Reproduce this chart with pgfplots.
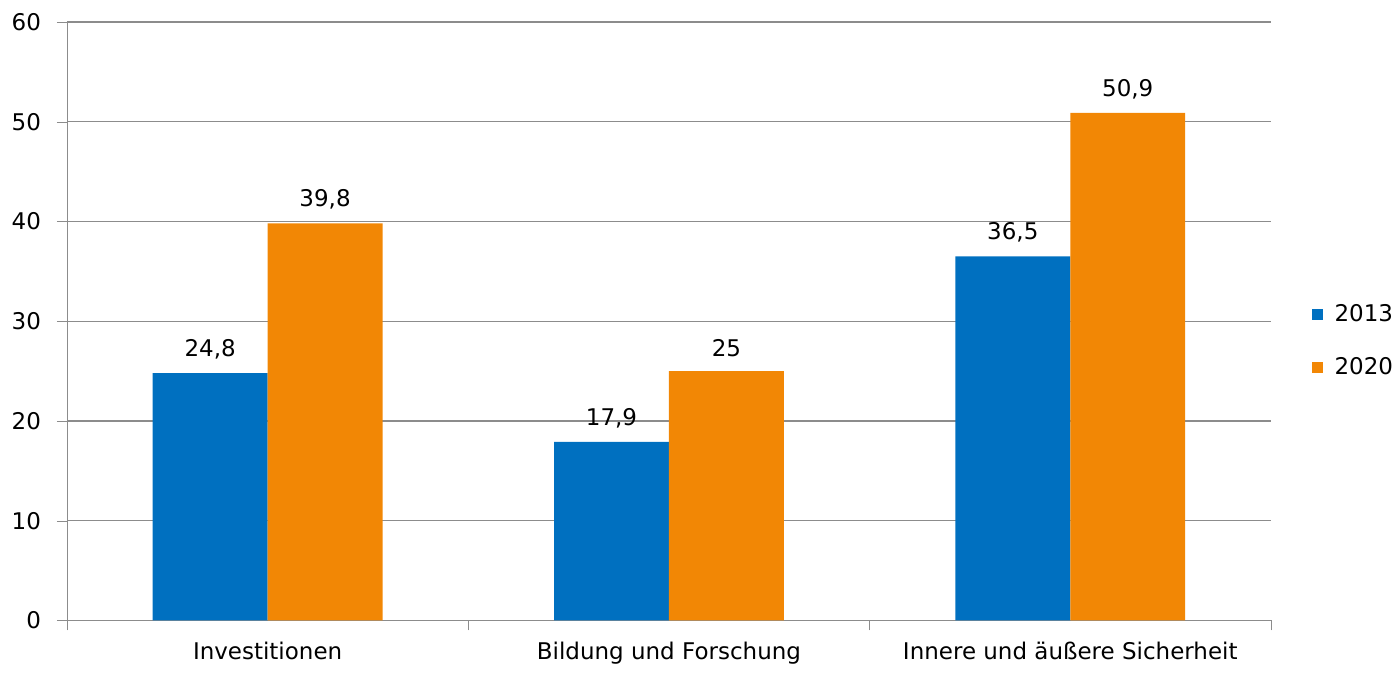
\documentclass[border=0pt]{standalone}
\usepackage{pgfplots}
\pgfplotsset{compat=1.18}
\usepackage{fontspec}
\setmainfont{DejaVu Sans}
\definecolor{cblue}{HTML}{0070C0}
\definecolor{corange}{HTML}{F28705}
\definecolor{gridc}{HTML}{8C8C8C}
\begin{document}
\fontsize{11.5}{13}\selectfont
\begin{tikzpicture}
\begin{axis}[
  scale only axis,
  width=602.5pt, height=299.5pt,
  ybar=0pt, bar width=57.5pt,
  xmin=-0.5, xmax=2.5,
  ymin=0, ymax=60,
  ytick={0,10,...,60},
  xtick={0,1,2},
  xticklabels={Investitionen, Bildung und Forschung, Innere und äußere Sicherheit},
  minor xtick={-0.5,0.5,1.5,2.5},
  major x tick style={draw=none},
  minor x tick style={draw=gridc},
  minor tick length=5pt,
  major tick length=5pt,
  tick align=outside,
  xtick pos=bottom, ytick pos=left,
  axis x line*=bottom, axis y line*=left,
  axis line style={draw=gridc, -},
  ytick style={draw=gridc},
  ymajorgrids, grid style={draw=gridc, line width=0.55pt},
  /pgf/number format/assume math mode=true,
  /pgf/number format/use comma,
  tick label style={font=\fontsize{11.5}{13}\selectfont},
  yticklabel style={xshift=-4pt},
  xticklabel style={yshift=-2pt},
  nodes near coords,
  nodes near coords style={font=\fontsize{11.5}{13}\selectfont, yshift=3pt, text=black},
  every node near coord/.append style={/pgf/number format/use comma},
  legend style={draw=none, at={(1.0334,0.5)}, anchor=west, yshift=-10pt, font=\fontsize{11.5}{13}\selectfont, row sep=12pt, fill=none, inner xsep=0pt},
  legend cell align=left,
  legend image code/.code={\fill[#1] (0pt,-2.75pt) rectangle (5.5pt,2.75pt); \path (9.5pt,0pt);},
  clip=false,
]
\addplot[fill=cblue, draw=none] coordinates {(0,24.8) (1,17.9) (2,36.5)};
\addplot[fill=corange, draw=none] coordinates {(0,39.8) (1,25) (2,50.9)};
\legend{2013,2020}
\coordinate (O) at (rel axis cs:0,0);
\end{axis}
\path ([shift={(-33.5pt,-24pt)}]O) rectangle ([shift={(665pt,310.5pt)}]O);
\end{tikzpicture}
\end{document}
